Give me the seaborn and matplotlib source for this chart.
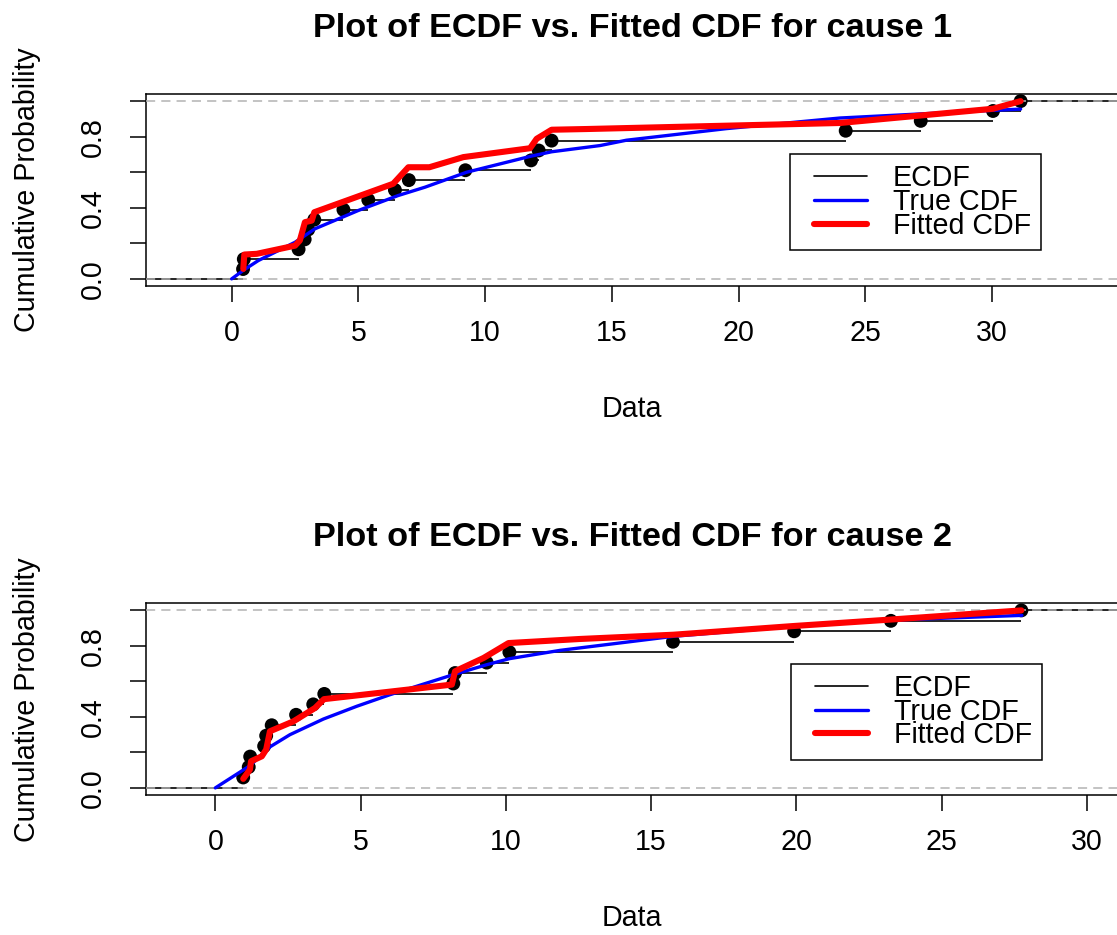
import matplotlib
matplotlib.use("Agg")
import matplotlib.pyplot as plt
import seaborn as sns
import numpy as np
from matplotlib.lines import Line2D
from matplotlib.legend_handler import HandlerLine2D

# ---------- data ----------
# cause 1
c1_times = [0.45, 0.48, 2.64, 2.88, 3.02, 3.26, 4.41, 5.39, 6.44, 6.99,
            9.22, 11.81, 12.11, 12.62, 24.22, 27.18, 30.03, 31.12]
c1_true_x = [0, 0.48, 1.05, 2.5, 3.29, 5.0, 6.57, 7.63, 9.27, 11.8, 12.62,
             14.53, 15.57, 19.5, 24.0, 27.18, 30.03, 31.12]
c1_true_y = [0, 0.05, 0.103, 0.206, 0.282, 0.385, 0.469, 0.516, 0.60, 0.69, 0.715,
             0.75, 0.78, 0.845, 0.905, 0.928, 0.948, 0.955]
c1_fit_x = [0.46, 0.50, 0.99, 2.50, 2.69, 2.89, 3.16, 3.26, 6.37, 6.97, 7.8,
            9.14, 11.77, 12.03, 12.62, 14.0, 24.0, 30.03, 31.12]
c1_fit_y = [0.056, 0.137, 0.141, 0.187, 0.216, 0.319, 0.328, 0.375, 0.535, 0.628, 0.628,
            0.685, 0.735, 0.788, 0.839, 0.843, 0.877, 0.957, 1.0]

# cause 2
c2_times = [0.96, 1.15, 1.2, 1.68, 1.75, 1.94, 2.78, 3.37, 3.75, 8.19, 8.25,
            9.34, 10.12, 15.75, 19.92, 23.25, 27.74]
c2_true_x = [0, 1.2, 1.88, 2.57, 3.72, 4.87, 6.01, 8.19, 9.34, 10.12, 11.87,
             15.77, 19.9, 23.22, 27.76]
c2_true_y = [0, 0.126, 0.231, 0.30, 0.388, 0.46, 0.525, 0.638, 0.694, 0.728, 0.775,
             0.854, 0.91, 0.945, 0.972]
c2_fit_x = [0.96, 1.19, 1.23, 1.6, 1.75, 1.88, 2.69, 3.43, 3.74, 8.14, 8.25,
            9.23, 10.09, 12.55, 15.77, 19.9, 23.2, 27.74]
c2_fit_y = [0.051, 0.103, 0.15, 0.178, 0.216, 0.319, 0.375, 0.45, 0.50, 0.582, 0.657,
            0.732, 0.816, 0.839, 0.863, 0.912, 0.948, 1.0]

y_ticks = [0.0, 0.2, 0.4, 0.6, 0.8, 1.0]
y_ticklabels = ['0.0', '', '0.4', '', '0.8', '']
x_ticks = [0, 5, 10, 15, 20, 25, 30]

sns.set_style("white")
plt.rcParams['font.family'] = ['Liberation Sans', 'DejaVu Sans']
plt.rcParams['text.color'] = 'black'
plt.rcParams['axes.labelcolor'] = 'black'
plt.rcParams['xtick.color'] = 'black'
plt.rcParams['ytick.color'] = 'black'
FS = 20.6

W, H = 1117, 935
fig = plt.figure(figsize=(W / 100, H / 100), dpi=100)


def px_axes(left, top, right, bottom):
    return fig.add_axes([left / W, 1 - bottom / H, (right - left) / W, (bottom - top) / H])


def plot_panel(ax, times, true_x, true_y, fit_x, fit_y, xlim, title, leg_anchor):
    x = np.sort(times)
    n = len(x)
    y = np.arange(1, n + 1) / n
    ax.set_xlim(*xlim)
    ax.set_ylim(-0.04, 1.04)

    # ECDF steps (no verticals) and points
    starts = np.r_[xlim[0], x]
    ends = np.r_[x, xlim[1]]
    levels = np.r_[0, y]
    ax.hlines(levels, starts, ends, color='black', lw=1.2, zorder=2)
    sns.scatterplot(x=x, y=y, color='black', s=100, edgecolor='none', ax=ax, zorder=3)

    for h in (0, 1):
        ax.axhline(h, color='#b3b3b3', lw=1.1, linestyle=(0, (6, 4)), zorder=4)

    sns.lineplot(x=true_x, y=true_y, sort=False, estimator=None, color='blue',
                 lw=2.4, ax=ax, zorder=5)
    sns.lineplot(x=fit_x, y=fit_y, sort=False, estimator=None, color='red',
                 lw=4.4, ax=ax, zorder=6)

    ax.set_xticks(x_ticks)
    ax.set_yticks(y_ticks)
    ax.set_yticklabels(y_ticklabels)
    ax.tick_params(axis='both', direction='out', length=11.5, width=1.1,
                   color='black', labelsize=FS, labelcolor='black', bottom=True, left=True)
    ax.tick_params(axis='x', pad=12.5)
    ax.tick_params(axis='y', pad=16.5, labelrotation=90)
    plt.setp(ax.get_yticklabels(), va='center')
    for sp in ax.spines.values():
        sp.set_color('black')
        sp.set_linewidth(1.1)

    ax.set_title(title, fontsize=24.7, fontweight='bold', pad=41, color='black')
    ax.set_xlabel('Data', fontsize=FS, va='baseline')
    ax.xaxis.set_label_coords(0.5, -0.683)
    ax.set_ylabel('Cumulative Probability', fontsize=FS, va='baseline')
    ax.yaxis.set_label_coords(-0.1137, 0.5)

    handles = [Line2D([], [], color='black', lw=1.2),
               Line2D([], [], color='blue', lw=2.4),
               Line2D([], [], color='red', lw=4.4)]
    leg = ax.legend(handles, ['ECDF', 'True CDF', 'Fitted CDF'], loc='upper right',
                    bbox_to_anchor=leg_anchor, borderaxespad=0, fontsize=FS,
                    frameon=True, fancybox=False, framealpha=1, edgecolor='black',
                    handlelength=2.31, handletextpad=0.91, labelspacing=-0.15,
                    borderpad=0.35, handler_map={Line2D: HandlerLine2D(xpad=0.49)})
    leg.get_frame().set_linewidth(1.1)
    leg.set_zorder(10)


ax1 = px_axes(145.7, 94, 1119, 286)
plot_panel(ax1, c1_times, c1_true_x, c1_true_y, c1_fit_x, c1_fit_y,
           (-3.39, 35.0), 'Plot of ECDF vs. Fitted CDF for cause 1', (0.9196, 0.686))

ax2 = px_axes(145.7, 603.3, 1119, 795)
plot_panel(ax2, c2_times, c2_true_x, c2_true_y, c2_fit_x, c2_fit_y,
           (-2.396, 31.1), 'Plot of ECDF vs. Fitted CDF for cause 2', (0.9206, 0.683))

fig.savefig('out.png', dpi=100)
